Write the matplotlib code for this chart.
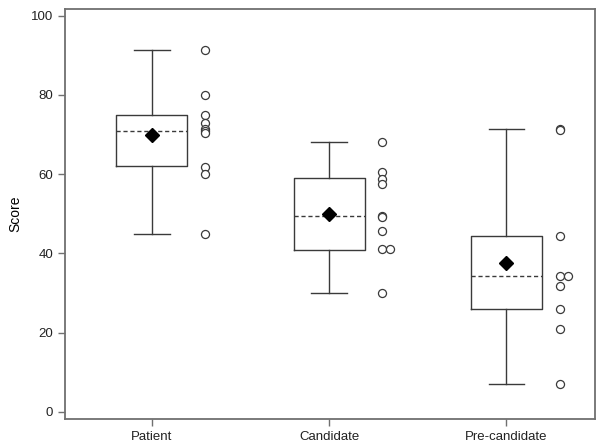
import matplotlib.pyplot as plt
import numpy as np

plt.rcParams['font.family'] = ['Liberation Sans', 'DejaVu Sans']

groups = ['Patient', 'Candidate', 'Pre-candidate']

# box summary values
whisker_low = [45.0, 30.0, 7.0]
q1 = [62.0, 40.8, 25.9]
median = [71.0, 49.4, 34.4]
q3 = [75.0, 59.0, 44.3]
whisker_high = [91.4, 68.0, 71.4]
mean = [70.0, 50.0, 37.5]

# individual scores shown beside each box
patient_pts = [91.4, 80.0, 75.0, 73.0, 71.3, 70.8, 70.4, 61.8, 60.0, 45.0]
candidate_pts = [68.0, 60.5, 58.7, 57.6, 49.5, 49.3, 45.6, 41.0, 41.0, 30.0]
precand_pts = [71.5, 71.2, 44.3, 34.4, 34.4, 31.9, 25.9, 20.8, 7.0]
# small sideways shift for overlapping points
patient_shift = [0, 0, 0, 0, 0, 0, 0, 0, 0, 0]
candidate_shift = [0, 0, 0, 0, 0, 0, 0, 0, 1, 0]
precand_shift = [0, 0, 0, 0, 1, 0, 0, 0, 0]

stats = []
for i, g in enumerate(groups):
    stats.append({'label': g, 'whislo': whisker_low[i], 'q1': q1[i], 'med': median[i],
                  'q3': q3[i], 'whishi': whisker_high[i], 'mean': mean[i], 'fliers': []})

fig = plt.figure(figsize=(6.04, 4.48), dpi=100)
ax = fig.add_axes([65 / 604, 29 / 448, 530 / 604, 410 / 448])

line_col = '#3a3a3a'
ax.bxp(stats, positions=[1, 2, 3], widths=0.40, showmeans=True,
       boxprops=dict(color=line_col, linewidth=1.0),
       whiskerprops=dict(color=line_col, linewidth=1.0),
       capprops=dict(color=line_col, linewidth=1.0),
       capwidths=0.2,
       medianprops=dict(color=line_col, linewidth=1.0, linestyle=(0, (3, 2))),
       meanprops=dict(marker='D', markerfacecolor='black', markeredgecolor='black', markersize=7))

all_pts = [patient_pts, candidate_pts, precand_pts]
all_shift = [patient_shift, candidate_shift, precand_shift]
for i, (pts, sh) in enumerate(zip(all_pts, all_shift)):
    x = np.full(len(pts), i + 1 + 0.30) + np.array(sh) * 0.045
    ax.plot(x, pts, linestyle='none', marker='o', markersize=5.8,
            markerfacecolor='white', markeredgecolor=line_col, markeredgewidth=0.9)

ax.set_xlim(0.51, 3.5)
ax.set_ylim(-1.8, 101.7)
ax.set_yticks([0, 20, 40, 60, 80, 100])
ax.set_xticks([1, 2, 3])
ax.set_xticklabels(groups)
ax.set_ylabel('Score', fontsize=10)
ax.yaxis.set_label_coords(-0.08, 0.5)

for s in ax.spines.values():
    s.set_color('#707070')
    s.set_linewidth(1.3)
ax.tick_params(axis='both', colors='#707070', labelcolor='#222222', labelsize=9.5,
               length=5, width=1.0, direction='out')

fig.savefig('out.png', dpi=100)
